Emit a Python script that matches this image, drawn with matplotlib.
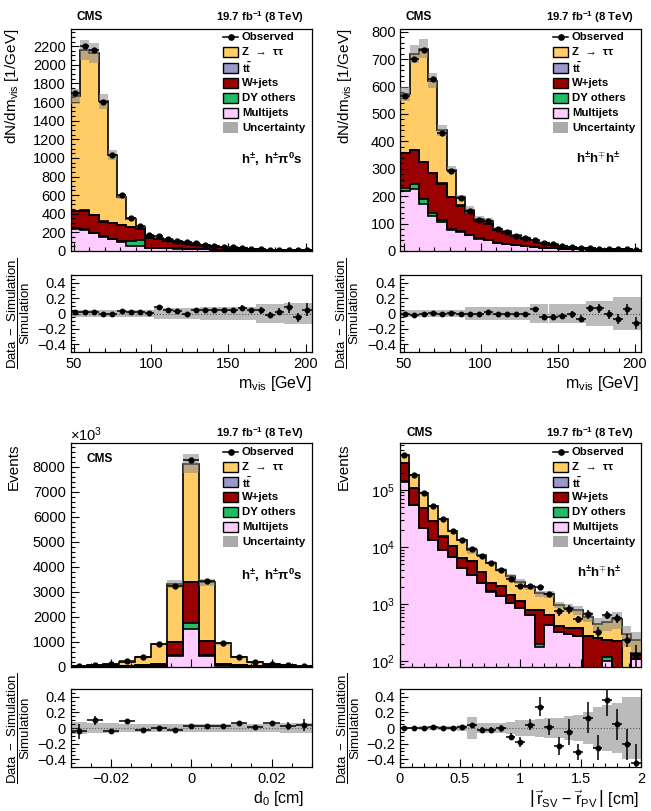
import numpy as np
import matplotlib
matplotlib.use('Agg')
import matplotlib.pyplot as plt
from matplotlib.ticker import MultipleLocator, FuncFormatter, LogLocator, NullFormatter
from matplotlib.patches import Rectangle
from matplotlib.lines import Line2D

plt.rcParams['font.family'] = ['Liberation Sans', 'DejaVu Sans']
plt.rcParams['mathtext.fontset'] = 'custom'
plt.rcParams['mathtext.rm'] = 'Liberation Sans'
plt.rcParams['mathtext.it'] = 'Liberation Sans:italic'
plt.rcParams['mathtext.bf'] = 'Liberation Sans:bold'
plt.rcParams['axes.unicode_minus'] = True

# ---------------- data: m_vis, h+-, h+-pi0s (26 bins, 48-204 GeV) ----------------
mvis_lo, mvis_hi, mvis_n = 48, 204, 26
qcd_tl = [240, 228, 190, 150, 125, 100, 58, 55, 33, 33, 30, 26, 23, 20, 17, 14, 12, 10, 8, 7, 6, 5, 4, 3.5, 3, 2.5]
dy_tl = [5, 5, 6, 6, 8, 10, 50, 64, 3, 3, 2, 2, 2, 1.5, 1.5, 1, 1, 1, 1, 1, 0.5, 0.5, 0.5, 0.5, 0.5, 0.5]
wj_tl = [185, 202, 189, 159, 163, 168, 150, 121, 99, 89, 73, 62, 53, 44.5, 36.5, 31, 25, 21, 17, 13, 9.5, 7.5, 6.5, 5.5, 4.5, 4]
tt_tl = [2, 2, 2, 2, 2, 2, 2, 2, 2, 2, 1.5, 1.5, 1.5, 1.5, 1, 1, 1, 1, 1, 1, 1, 0.5, 0.5, 0.5, 0.5, 0.5]
ztt_tl = [1228, 1723, 1743, 1293, 732, 305, 88, 18, 28, 18, 16.5, 14.5, 12.5, 10.5, 8, 7, 5, 4, 3, 2, 1, 1.5, 1.5, 1, 0.5, 0.5]
obs_tl = [1700, 2200, 2160, 1605, 1035, 600, 355, 265, 167, 157, 129, 109, 92, 82, 67, 56, 46, 38, 32, 25, 19, 15, 13, 12, 9, 8.5]
ratio_tl = [0.02, 0.02, 0.015, -0.005, 0, 0.03, 0.02, 0.02, 0.01, 0.08, 0.05, 0.03, 0, 0.05, 0.04, 0.04, 0.04, 0.04, 0.07, 0.04, 0.04, -0.02, 0.02, 0.08, -0.05, 0.05]
rerr_tl = [0.01, 0.01, 0.01, 0.01, 0.01, 0.01, 0.012, 0.015, 0.015, 0.02, 0.02, 0.02, 0.02, 0.02, 0.03, 0.03, 0.03, 0.03, 0.035, 0.035, 0.04, 0.04, 0.045, 0.07, 0.06, 0.08]
band_tl = [0.05, 0.05, 0.05, 0.05, 0.05, 0.05, 0.05, 0.05, 0.05, 0.065, 0.065, 0.065, 0.065, 0.065, 0.085, 0.085, 0.085, 0.085, 0.085, 0.085, 0.12, 0.12, 0.12, 0.14, 0.14, 0.14]

# ---------------- data: m_vis, h+-h-+h+- ----------------
qcd_tr = [218, 228, 173, 126, 105, 76, 70, 57, 45, 39, 29, 25, 21, 17, 14.5, 11.5, 9.5, 7.5, 6.5, 5.5, 4.5, 3.5, 3, 2.5, 2, 1.7]
dy_tr = [12, 16, 15, 12, 9, 4, 3, 2, 1, 1, 1, 1, 1, 1, 0.5, 0.5, 0.5, 0.5, 0.5, 0.5, 0.5, 0.5, 0.5, 0.5, 0.5, 0.3]
wj_tr = [126, 124, 137, 145, 132, 117, 93, 83, 62, 60, 46, 41, 31, 27, 21, 16, 11, 8, 6, 4, 4, 4, 3.5, 3, 2.5, 2.5]
tt_tr = [1, 1, 1, 1, 1, 1, 1, 1, 1, 1, 0.5, 0.5, 0.5, 0.5, 0.5, 0.5, 0.5, 0.5, 0.5, 0.5, 0.5, 0.5, 0.5, 0.5, 0.5, 0.5]
ztt_tr = [215, 351, 413, 338, 193, 99, 30, 8, 9, 9, 5.5, 4.5, 3.5, 3.5, 2.5, 2.5, 1.5, 1.5, 0.5, 0.5, 0.5, 0.5, 0.5, 0.5, 0.5, 0.2]
obs_tr = [565, 699, 733, 627, 432, 291, 195, 147, 112, 108, 80, 70, 55, 47, 40, 30, 24, 19, 14, 11, 10, 8.5, 8, 7.5, 6, 4.5]
ratio_tr = [-0.01, -0.02, 0, 0.01, -0.01, 0.01, -0.01, -0.01, -0.01, 0.025, 0, 0, -0.01, -0.01, 0.055, -0.04, -0.04, -0.03, -0.01, -0.065, 0.065, 0.065, -0.01, -0.07, 0.055, -0.12]
rerr_tr = [0.01, 0.01, 0.01, 0.01, 0.01, 0.012, 0.015, 0.015, 0.02, 0.02, 0.02, 0.025, 0.025, 0.03, 0.03, 0.035, 0.035, 0.04, 0.045, 0.05, 0.05, 0.055, 0.06, 0.065, 0.07, 0.08]
band_tr = [0.045, 0.045, 0.045, 0.045, 0.045, 0.045, 0.045, 0.08, 0.08, 0.08, 0.08, 0.08, 0.08, 0.08, 0.12, 0.12, 0.12, 0.12, 0.12, 0.12, 0.16, 0.16, 0.16, 0.21, 0.21, 0.21]

# ---------------- data: d0, h+-, h+-pi0s (15 bins, -0.03..0.03 cm) ----------------
d0_lo, d0_hi, d0_n = -0.03, 0.03, 15
qcd_bl = [4, 6, 10, 18, 30, 50, 440, 1530, 450, 55, 30, 18, 10, 6, 4]
dy_bl = [0.5, 1, 1, 2, 3, 5, 40, 225, 40, 5, 3, 2, 1, 1, 0.5]
wj_bl = [5.5, 8, 14, 20, 37, 65, 520, 1635, 540, 65, 37, 20, 14, 8, 5.5]
tt_bl = [1, 1, 1, 2, 3, 5, 10, 20, 10, 5, 3, 2, 1, 1, 1]
ztt_bl = [29, 64, 107, 171, 327, 795, 2310, 4720, 2340, 810, 307, 168, 99, 49, 27]
obs_bl = [38, 88, 128, 232, 392, 920, 3255, 8270, 3440, 968, 403, 212, 133, 67, 40]
ratio_bl = [-0.04, 0.10, -0.04, 0.09, -0.02, 0.0, -0.02, 0.02, 0.02, 0.03, 0.06, 0.01, 0.06, 0.03, 0.04]
rerr_bl = [0.095, 0.06, 0.03, 0.02, 0.012, 0.01, 0.005, 0.004, 0.005, 0.01, 0.012, 0.02, 0.025, 0.05, 0.08]
band_bl = [0.08, 0.065, 0.06, 0.05, 0.045, 0.045, 0.045, 0.045, 0.045, 0.045, 0.045, 0.05, 0.055, 0.065, 0.07]

# ---------------- data: |r_SV - r_PV|, h+-h-+h+- (25 bins, 0..2 cm) ----------------
rsv_lo, rsv_hi, rsv_n = 0.0, 2.0, 25
qcd_br = [1.4e5, 5.4e4, 2.15e4, 1.34e4, 9.0e3, 6.7e3, 4.3e3, 3.3e3, 2.35e3, 1.67e3, 1.37e3, 1.05e3, 860, 655, 178, 440, 330, 300, 280, 50, 50, 100, 50, 40, 110]
dy_br = [300, 150, 80, 50, 30, 20, 15, 10, 8, 6, 5, 4, 3, 3, 26, 2, 2, 2, 2, 1, 1, 20, 1, 1, 1]
wj_br = [159700, 52850, 26420, 14550, 6270, 3780, 2085, 2290, 1342, 674, 725, 416, 257, 142, 596, 213, 78, 78, 102, 223, 209, 120, 173, 29, 29]
tt_br = [500, 300, 200, 100, 60, 40, 30, 20, 15, 10, 8, 6, 5, 4, 3, 3, 2, 2, 2, 1, 1, 1, 1, 1, 1]
ztt_br = [99500, 76700, 39800, 24900, 15640, 8760, 6770, 3330, 3425, 3000, 1892, 1674, 1375, 1166, 747, 842, 558, 485, 407, 329, 184, 241, 323, 231, 97]
obs_br = [4.0e5, 1.84e5, 8.8e4, 5.33e4, 3.1e4, 1.93e4, 1.34e4, 9.3e3, 7.0e3, 5.25e3, 3.98e3, 2.8e3, 2.05e3, 2.05e3, 1.97e3, 1.52e3, 748, 824, 551, 682, 334, 655, 573, 239, 131]
ratio_br = [0, 0, 0, 0.01, 0, 0, 0.015, 0.04, -0.02, -0.02, -0.005, -0.11, -0.18, 0.04, 0.275, 0.015, -0.23, -0.05, -0.305, 0.13, -0.25, 0.36, 0.045, -0.21, -0.45]
rerr_br = [0.005, 0.005, 0.008, 0.01, 0.012, 0.015, 0.02, 0.025, 0.03, 0.035, 0.04, 0.05, 0.06, 0.07, 0.12, 0.1, 0.12, 0.17, 0.1, 0.2, 0.16, 0.2, 0.2, 0.2, 0.25]
band_br = [0.015, 0.015, 0.02, 0.02, 0.025, 0.03, 0.04, 0.14, 0.07, 0.07, 0.07, 0.08, 0.1, 0.1, 0.12, 0.13, 0.13, 0.15, 0.17, 0.2, 0.27, 0.3, 0.32, 0.4, 0.4]

legend_labels = ['Observed', 'Z  →  ττ', r'$\mathbf{t\bar{t}}$', 'W+jets', 'DY others', 'Multijets', 'Uncertainty']

# ---------------- style ----------------
C_ZTT, C_TT, C_W, C_DY, C_QCD = '#FFCC66', '#9999CC', '#990000', '#22BB66', '#FFCCFF'
C_UNC, C_BAND = '#888888', '#BBBBBB'
W, H = 651, 811
fig = plt.figure(figsize=(W / 100, H / 100), dpi=100)


def fx(x):
    return x / W


def fy(y):
    return 1 - y / H


def add_ax(l, t, r, b):
    return fig.add_axes([l / W, 1 - b / H, (r - l) / W, (b - t) / H])


def style(ax, ls=10.5):
    ax.tick_params(which='both', direction='in', top=False, right=False, labelsize=ls, width=0.8)
    ax.tick_params(which='major', length=6)
    ax.tick_params(which='minor', length=3)
    for s in ax.spines.values():
        s.set_linewidth(0.9)


def draw_main(ax, edges, comps, obs, band, rerr, log=False):
    n = len(obs)
    centers = 0.5 * (edges[1:] + edges[:-1])
    w = edges[1] - edges[0]
    floor = 1e-2 if log else 0.0
    base = np.full(n, floor)
    tops = []
    cols = [C_QCD, C_DY, C_W, C_TT, C_ZTT]
    for vals, col in zip(comps, cols):
        top = base + np.asarray(vals, float)
        ax.stairs(top, edges, baseline=base, fill=True, color=col, lw=0)
        tops.append(top)
        base = top
    for top in tops:
        ax.stairs(top, edges, baseline=None, color='black', lw=1.2)
    total = base
    unc = np.asarray(band) * total
    ax.bar(centers, 2 * unc, bottom=total - unc, width=w, color=C_UNC, alpha=0.55, lw=0, zorder=3)
    ax.errorbar(centers, obs, yerr=np.asarray(rerr) * total, xerr=w / 2, fmt='o', color='black',
                ms=3.5, elinewidth=1.1, capsize=0, zorder=5)
    ax.set_xlim(edges[0], edges[-1])
    ax.tick_params(labelbottom=False)


def draw_ratio(ax, edges, ratio, rerr, band):
    centers = 0.5 * (edges[1:] + edges[:-1])
    w = edges[1] - edges[0]
    band = np.asarray(band)
    ax.bar(centers, 2 * band, bottom=-band, width=w, color=C_BAND, lw=0, zorder=1)
    ax.axhline(0, color='#555555', ls=':', lw=0.8, zorder=2)
    ax.errorbar(centers, ratio, yerr=rerr, xerr=w / 2, fmt='o', color='black', ms=3.2,
                elinewidth=1.1, capsize=0, zorder=5)
    ax.set_xlim(edges[0], edges[-1])
    ax.set_ylim(-0.5, 0.5)
    ax.yaxis.set_major_locator(MultipleLocator(0.2))
    ax.yaxis.set_minor_locator(MultipleLocator(0.05))
    ax.yaxis.set_major_formatter(FuncFormatter(lambda v, p: ('%g' % round(v, 3)).replace('-', '\u2212')))


def fmt_g(v, p):
    return ('%g' % round(v, 4)).replace('-', '\u2212')


def draw_legend(xb, ys):
    for i, (lab, y) in enumerate(zip(legend_labels, ys)):
        if i == 0:
            fig.add_artist(Line2D([fx(xb), fx(xb + 15)], [fy(y), fy(y)], color='black', lw=1.1,
                                  transform=fig.transFigure))
            fig.add_artist(Line2D([fx(xb + 7.5)], [fy(y)], marker='o', ms=3.8, color='black',
                                  transform=fig.transFigure))
        elif i == 6:
            fig.add_artist(Rectangle((fx(xb), fy(y + 5.5)), 15 / W, 11 / H, facecolor='#AAAAAA',
                                     edgecolor='none', transform=fig.transFigure))
        else:
            col = [None, C_ZTT, C_TT, C_W, C_DY, C_QCD][i]
            fig.add_artist(Rectangle((fx(xb), fy(y + 5)), 15 / W, 10 / H, facecolor=col,
                                     edgecolor='black', lw=1.0, transform=fig.transFigure))
        fig.text(fx(xb + 19), fy(y), lab, fontsize=8.2, fontweight='bold', va='center', ha='left')


def ratio_ylabel(xc, yc):
    fig.text(fx(xc), fy(yc), r'$\dfrac{\mathrm{Data\ -\ Simulation}}{\mathrm{Simulation}}$',
             rotation=90, ha='center', va='center', fontsize=9.5)


LUMI = r'$\mathbf{19.7\ fb^{-1}\ (8\ TeV)}$'

# ================= top-left =================
e_mvis = np.linspace(mvis_lo, mvis_hi, mvis_n + 1)
ax = add_ax(70.7, 28.5, 311.7, 251)
draw_main(ax, e_mvis, [qcd_tl, dy_tl, wj_tl, tt_tl, ztt_tl], obs_tl, band_tl, rerr_tl)
ax.set_ylim(0, 2390)
ax.yaxis.set_major_locator(MultipleLocator(200))
ax.yaxis.set_minor_locator(MultipleLocator(50))
ax.xaxis.set_major_locator(MultipleLocator(50))
ax.xaxis.set_minor_locator(MultipleLocator(10))
ax.yaxis.set_major_formatter(FuncFormatter(fmt_g))
style(ax)
axr = add_ax(70.7, 275, 311.7, 352)
draw_ratio(axr, e_mvis, ratio_tl, rerr_tl, band_tl)
axr.xaxis.set_major_locator(MultipleLocator(50))
axr.xaxis.set_minor_locator(MultipleLocator(10))
style(axr, 10.5)
fig.text(fx(12), fy(28.5), r'dN/dm$_{\mathrm{vis}}$ [1/GeV]', rotation=90, ha='center', va='top', fontsize=11)
ratio_ylabel(18.5, 313.5)
fig.text(fx(311.7), fy(388), r'm$_{\mathrm{vis}}$ [GeV]', ha='right', va='baseline', fontsize=11.5)
fig.text(fx(90), fy(17), 'CMS', fontsize=8.6, fontweight='bold', ha='center', va='center')
fig.text(fx(304), fy(17), LUMI, fontsize=8.2, ha='right', va='center')
draw_legend(223, [36.7, 52.3, 67.7, 82.7, 97.7, 112.7, 127.7])
fig.text(fx(271.5), fy(159.3), r'$\mathbf{h^{\pm},\ h^{\pm}\pi^{0}s}$', fontsize=9.5, ha='center', va='center')

# ================= top-right =================
ax = add_ax(400.5, 28.5, 641, 251)
draw_main(ax, e_mvis, [qcd_tr, dy_tr, wj_tr, tt_tr, ztt_tr], obs_tr, band_tr, rerr_tr)
ax.set_ylim(0, 812)
ax.yaxis.set_major_locator(MultipleLocator(100))
ax.yaxis.set_minor_locator(MultipleLocator(20))
ax.xaxis.set_major_locator(MultipleLocator(50))
ax.xaxis.set_minor_locator(MultipleLocator(10))
ax.yaxis.set_major_formatter(FuncFormatter(fmt_g))
style(ax)
axr = add_ax(400.5, 275, 641, 352)
draw_ratio(axr, e_mvis, ratio_tr, rerr_tr, band_tr)
axr.xaxis.set_major_locator(MultipleLocator(50))
axr.xaxis.set_minor_locator(MultipleLocator(10))
style(axr, 10.5)
fig.text(fx(345), fy(28.5), r'dN/dm$_{\mathrm{vis}}$ [1/GeV]', rotation=90, ha='center', va='top', fontsize=11)
ratio_ylabel(348, 313.5)
fig.text(fx(639), fy(388), r'm$_{\mathrm{vis}}$ [GeV]', ha='right', va='baseline', fontsize=11.5)
fig.text(fx(419), fy(17), 'CMS', fontsize=8.6, fontweight='bold', ha='center', va='center')
fig.text(fx(634), fy(17), LUMI, fontsize=8.2, ha='right', va='center')
draw_legend(553, [36.7, 52.3, 67.7, 82.7, 97.7, 112.7, 127.7])
fig.text(fx(598), fy(159.3), r'$\mathbf{h^{\pm}h^{\mp}h^{\pm}}$', fontsize=9.5, ha='center', va='center')

# ================= bottom-left =================
e_d0 = np.linspace(d0_lo, d0_hi, d0_n + 1)
ax = add_ax(70.5, 443, 311.7, 667)
draw_main(ax, e_d0, [qcd_bl, dy_bl, wj_bl, tt_bl, ztt_bl], obs_bl, band_bl, rerr_bl)
ax.set_ylim(0, 8950)
ax.yaxis.set_major_locator(MultipleLocator(1000))
ax.yaxis.set_minor_locator(MultipleLocator(200))
ax.xaxis.set_major_locator(MultipleLocator(0.02))
ax.xaxis.set_minor_locator(MultipleLocator(0.005))
ax.yaxis.set_major_formatter(FuncFormatter(fmt_g))
style(ax)
axr = add_ax(70.5, 689, 311.7, 767)
draw_ratio(axr, e_d0, ratio_bl, rerr_bl, band_bl)
axr.xaxis.set_major_locator(MultipleLocator(0.02))
axr.xaxis.set_minor_locator(MultipleLocator(0.005))
axr.xaxis.set_major_formatter(FuncFormatter(fmt_g))
style(axr, 10.5)
fig.text(fx(14), fy(443), 'Events', rotation=90, ha='center', va='top', fontsize=11)
ratio_ylabel(18.5, 728)
fig.text(fx(304), fy(803), r'd$_{0}$ [cm]', ha='right', va='baseline', fontsize=11.5)
fig.text(fx(70), fy(435), r'$\times10^{3}$', fontsize=10.5, ha='left', va='center')
fig.text(fx(99.7), fy(459.3), 'CMS', fontsize=8.6, fontweight='bold', ha='center', va='center')
fig.text(fx(304), fy(433), LUMI, fontsize=8.2, ha='right', va='center')
draw_legend(223, [451.7, 467.3, 482.3, 496.7, 511.7, 526.7, 541.7])
fig.text(fx(271.5), fy(575), r'$\mathbf{h^{\pm},\ h^{\pm}\pi^{0}s}$', fontsize=9.5, ha='center', va='center')

# ================= bottom-right =================
e_rsv = np.linspace(rsv_lo, rsv_hi, rsv_n + 1)
ax = add_ax(399.5, 443, 641, 667)
ax.set_yscale('log')
draw_main(ax, e_rsv, [qcd_br, dy_br, wj_br, tt_br, ztt_br], obs_br, band_br, rerr_br, log=True)
ax.set_ylim(80, 6.6e5)
ax.yaxis.set_major_locator(LogLocator(base=10))
ax.yaxis.set_minor_locator(LogLocator(base=10, subs=np.arange(2, 10)))
ax.yaxis.set_minor_formatter(NullFormatter())
ax.xaxis.set_major_locator(MultipleLocator(0.5))
ax.xaxis.set_minor_locator(MultipleLocator(0.1))
style(ax)
axr = add_ax(399.5, 689, 641, 767)
draw_ratio(axr, e_rsv, ratio_br, rerr_br, band_br)
axr.xaxis.set_major_locator(MultipleLocator(0.5))
axr.xaxis.set_minor_locator(MultipleLocator(0.1))
axr.xaxis.set_major_formatter(FuncFormatter(fmt_g))
style(axr, 10.5)
fig.text(fx(344), fy(443), 'Events', rotation=90, ha='center', va='top', fontsize=11)
ratio_ylabel(348.5, 728)
fig.text(fx(639), fy(805),
         r'$\left|\,\vec{\mathrm{r}}_{\mathrm{SV}}\ \mathrm{-}\ \vec{\mathrm{r}}_{\mathrm{PV}}\,\right|$ [cm]',
         ha='right', va='baseline', fontsize=11.5)
fig.text(fx(419.5), fy(433), 'CMS', fontsize=8.6, fontweight='bold', ha='center', va='center')
fig.text(fx(634), fy(433), LUMI, fontsize=8.2, ha='right', va='center')
draw_legend(553, [451.7, 467.3, 482.3, 496.7, 511.7, 526.7, 541.7])
fig.text(fx(599), fy(572.7), r'$\mathbf{h^{\pm}h^{\mp}h^{\pm}}$', fontsize=9.5, ha='center', va='center')

fig.savefig('out.png', dpi=100)
